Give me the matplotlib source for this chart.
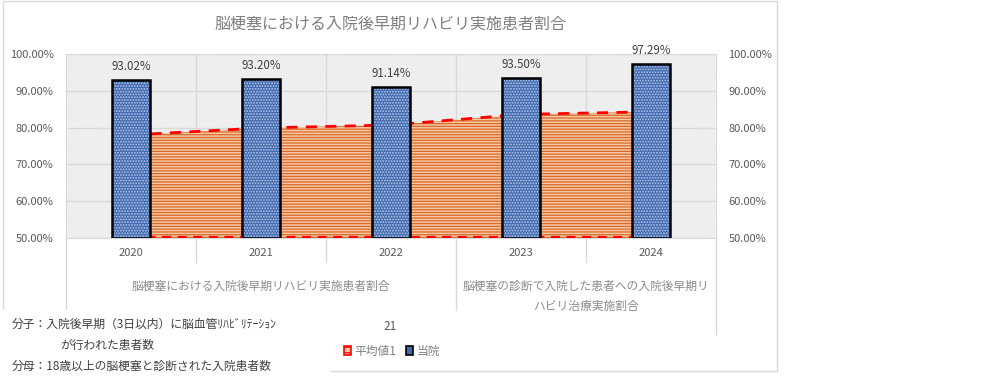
import matplotlib
matplotlib.use("Agg")
import matplotlib.pyplot as plt
from matplotlib.patches import Rectangle, Patch

plt.rcParams['font.family'] = ['Noto Sans CJK JP', 'DejaVu Sans']
plt.rcParams['hatch.linewidth'] = 0.9

# data
years = ['2020', '2021', '2022', '2023', '2024']
hospital = [93.02, 93.20, 91.14, 93.50, 97.29]      # 当院
average = [78.0, 79.9, 80.7, 83.6, 84.3]             # 平均値1
group_names = ['脳梗塞における入院後早期リハビリ実施患者割合',
               '脳梗塞の診断で入院した患者への入院後早期リ\nハビリ治療実施割合']
group_spans = [(0, 2), (3, 4)]
title = '脳梗塞における入院後早期リハビリ実施患者割合'
series_names = ['平均値1', '当院']

W, H = 996, 392
fig = plt.figure(figsize=(W / 100, H / 100), dpi=100)

def fx(px):
    return px / W

def fy(py):
    return 1 - py / H

ax = fig.add_axes([fx(66), fy(238), fx(716) - fx(66), fy(54) - fy(238)])
x = list(range(len(years)))

# hatched plot background
ax.add_patch(Rectangle((0, 0), 1, 1, transform=ax.transAxes, facecolor='white',
                       edgecolor='#e6e6e6', hatch='\\' * 12, lw=0, zorder=0))

# average as a striped area with dashed red outline
area = ax.fill_between(x, 50, average, facecolor='#f8c7a2', edgecolor='#d9692a',
                       hatch='-' * 6, lw=0, zorder=2)
ax.plot(x, average, color='#ff0000', lw=2, dashes=(4, 3), zorder=3)
ax.plot([x[0], x[-1]], [50.15, 50.15], color='#ff0000', lw=1.6, dashes=(4, 3), zorder=3)

# hospital bars
bw = 0.285
ax.bar(x, [v - 50 for v in hospital], bw, bottom=50, facecolor='#4169ad',
       edgecolor='#b4c8ec', hatch='.' * 6, lw=0, zorder=4)
bars = ax.bar(x, [v - 50 for v in hospital], bw, bottom=50, fill=False,
              edgecolor='black', lw=1.8, zorder=5)
ax.bar_label(bars, labels=[f'{v:.2f}%' for v in hospital], padding=5,
             fontsize=8.3, color='#404040')

ax.set_xlim(-0.5, len(years) - 0.5)
ax.set_ylim(50, 100)
yt = [50, 60, 70, 80, 90, 100]
ax.set_yticks(yt)
ax.set_yticklabels([f'{v:.2f}%' for v in yt])
ax.tick_params(axis='y', length=0, labelsize=8, labelcolor='#595959', pad=9,
               labelright=True)
ax.set_xticks(x)
ax.set_xticklabels(years)
ax.tick_params(axis='x', length=0, labelsize=8, labelcolor='#595959', pad=7)
ax.set_xticks([i + 0.5 for i in x[:-1]], minor=True)
ax.tick_params(axis='x', which='minor', length=0)
ax.grid(True, axis='y', color='#d9d9d9', lw=1, zorder=1)
ax.grid(True, axis='x', which='minor', color='#d9d9d9', lw=1, zorder=1)
ax.set_axisbelow(True)
for s in ax.spines.values():
    s.set_color('#d9d9d9')

# category dividers below the axis
tr = ax.get_xaxis_transform()
for b in [0.5, 1.5, 3.5]:
    ax.plot([b, b], [0, -0.13], color='#d9d9d9', lw=1, transform=tr, clip_on=False)
for b, bot in [(-0.5, -0.39), (2.5, -0.39), (4.5, -0.52)]:
    ax.plot([b, b], [0, bot], color='#d9d9d9', lw=1, transform=tr, clip_on=False)

# group labels
for name, (a, b) in zip(group_names, group_spans):
    ax.text((a + b) / 2, -0.225, name, transform=tr, ha='center', va='top',
            fontsize=8.5, color='#8c8c8c', linespacing=1.75)

# chart border
fig.patches.append(Rectangle((fx(3), fy(371)), fx(777) - fx(3), fy(1) - fy(371),
                             transform=fig.transFigure, fill=False,
                             edgecolor='#d9d9d9', lw=1, zorder=1))
# white note box covering the lower left corner
fig.patches.append(Rectangle((0, 0), fx(330), fy(310), transform=fig.transFigure,
                             facecolor='white', edgecolor='none', zorder=2))

fig.text(fx(390), fy(24), title, ha='center', va='center', fontsize=11.5,
         color='#7f7f7f')

fig.text(fx(12), fy(324), '分子：入院後早期（3日以内）に脳血管ﾘﾊﾋﾞﾘﾃｰｼｮﾝ',
         ha='left', va='center', fontsize=8.5, color='#404040', zorder=3)
fig.text(fx(60), fy(345), 'が行われた患者数', ha='left', va='center',
         fontsize=8.5, color='#404040', zorder=3)
fig.text(fx(12), fy(366), '分母：18歳以上の脳梗塞と診断された入院患者数',
         ha='left', va='center', fontsize=8.5, color='#404040', zorder=3)

fig.text(fx(390), fy(326), '21', ha='center', va='center', fontsize=8.5,
         color='#595959')

handles = [Patch(facecolor='#f8c7a2', edgecolor='#ff0000', hatch='---', lw=1.2),
           Patch(facecolor='#4169ad', edgecolor='black', lw=1.2)]
fig.legend(handles, series_names, loc='center', bbox_to_anchor=(fx(392), fy(351)),
           ncol=2, frameon=False, fontsize=8.5, labelcolor='#7f7f7f',
           handlelength=0.6, handleheight=0.9, handletextpad=0.3,
           columnspacing=0.8)

fig.savefig('out.png', dpi=100)
